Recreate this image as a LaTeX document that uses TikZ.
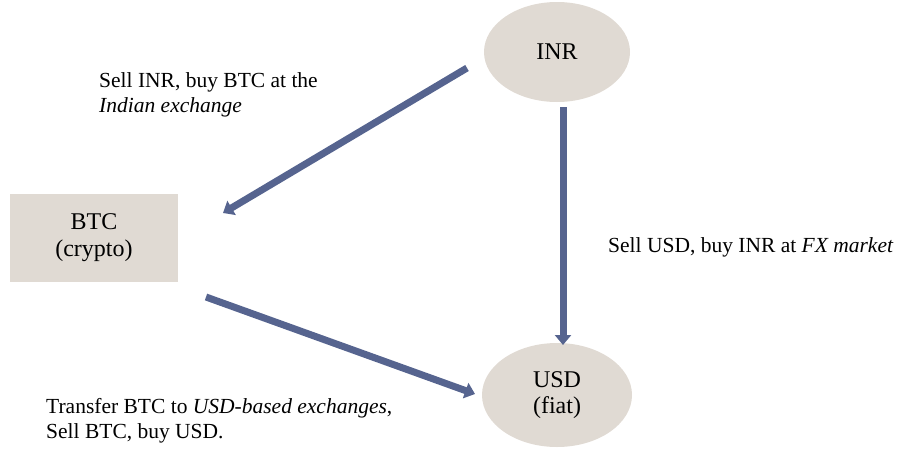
\documentclass[tikz,border=0pt]{standalone}
\usepackage{fontspec}
\setmainfont{Liberation Serif}
\usetikzlibrary{arrows.meta,shapes.geometric}
\definecolor{nodefill}{HTML}{E0DAD3}
\definecolor{arrowblue}{HTML}{56648F}
\tikzset{
  ellnode/.style={ellipse, fill=nodefill, minimum width=146pt, minimum height=100pt, inner sep=0pt, font=\fontsize{24}{26}\selectfont, align=center},
  boxnode/.style={rectangle, fill=nodefill, minimum width=168pt, minimum height=88pt, inner sep=0pt, font=\fontsize{24}{27}\selectfont, align=center},
  flow/.style={line width=7pt, draw=arrowblue, -{Triangle[width=16pt,length=10pt]}},
  lbl/.style={font=\fontsize{21.5}{25.5}\selectfont, inner sep=0pt, align=left}
}
\begin{document}
\begin{tikzpicture}[x=1pt,y=-1pt]
\useasboundingbox (0,0) rectangle (899,450);
\node[ellnode] (inr) at (557,52) {\raisebox{-6pt}{INR}};
\node[ellnode, minimum width=150pt, minimum height=104pt] (usd) at (557,395) {USD\\(fiat)};
\node[boxnode] (btc) at (94,238) {BTC\\(crypto)};
\coordinate (a1s) at (467,68);
\coordinate (a1e) at (223,213);
\coordinate (a2s) at (563,107);
\coordinate (a2e) at (563,345);
\coordinate (a3s) at (206,297);
\coordinate (a3e) at (475,394);
\draw[flow] (a1s) -- (a1e);
\draw[flow] (a2s) -- (a2e);
\draw[flow] (a3s) -- (a3e);
\node[lbl, anchor=north west] (l1) at (99,72) {Sell INR, buy BTC at the\\\textit{Indian exchange}};
\node[lbl, anchor=base west] (l2) at (608,252) {Sell USD, buy INR at \textit{FX market}};
\node[lbl, anchor=north west] (l3) at (46,398) {Transfer BTC to \textit{USD-based exchanges},\\Sell BTC, buy USD.};
\end{tikzpicture}
\end{document}
